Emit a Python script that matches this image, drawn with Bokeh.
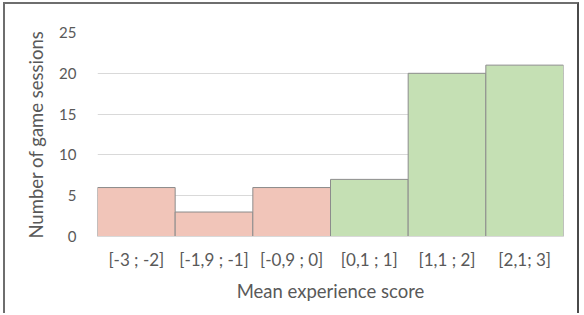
from bokeh.plotting import figure
from bokeh.models import FactorRange, FixedTicker, ColumnDataSource
from bokeh.embed import file_html
from bokeh.resources import INLINE

categories = ["[-3 ; -2]", "[-1,9 ; -1]", "[-0,9 ; 0]", "[0,1 ; 1]", "[1,1 ; 2]", "[2,1; 3]"]
counts = [6, 3, 6, 7, 20, 21]
colors = ["#F1C5B9", "#F1C5B9", "#F1C5B9", "#C5E0B4", "#C5E0B4", "#C5E0B4"]
y_ticks = [0, 5, 10, 15, 20, 25]

FONT = "Lato"
TXT = "#595959"

src = ColumnDataSource(dict(cat=categories, n=counts, c=colors))

p = figure(width=576, height=311, x_range=FactorRange(*categories), y_range=(0, 25),
           output_backend="svg", toolbar_location=None,
           min_border_left=92, min_border_right=18, min_border_top=28, min_border_bottom=79)
p.styles = {"margin-left": "3px", "margin-top": "2px",
            "border-left": "2px solid #6E6E6E", "border-top": "2px solid #6E6E6E",
            "border-right": "2px solid #4A4A4A"}
p.outline_line_color = None
p.background_fill_color = "white"
p.border_fill_color = "white"

p.vbar(x="cat", top="n", width=1.0, source=src, fill_color="c", line_color="#8C8C8C", line_width=1)

p.xgrid.grid_line_color = None
p.ygrid.grid_line_color = "#D9D9D9"
p.ygrid.grid_line_width = 1
p.yaxis.ticker = FixedTicker(ticks=y_ticks)

for ax in (p.xaxis[0], p.yaxis[0]):
    ax.major_tick_line_color = None
    ax.minor_tick_line_color = None
    ax.major_label_text_font = FONT
    ax.major_label_text_color = TXT
    ax.axis_label_text_font = FONT
    ax.axis_label_text_color = TXT
    ax.axis_label_text_font_size = "18.5px"
    ax.axis_label_text_font_style = "normal"

p.yaxis.major_label_text_font_size = "15px"
p.xaxis.major_label_text_font_size = "17px"
p.yaxis.axis_line_color = None
p.xaxis.axis_line_color = "#D9D9D9"
p.yaxis.major_label_standoff = 15
p.xaxis.major_label_standoff = 6
p.yaxis.axis_label = "Number of game sessions"
p.xaxis.axis_label = "Mean experience score"
p.yaxis.axis_label_standoff = 9
p.xaxis.axis_label_standoff = 7

open("out.html", "w").write(file_html(p, INLINE))
